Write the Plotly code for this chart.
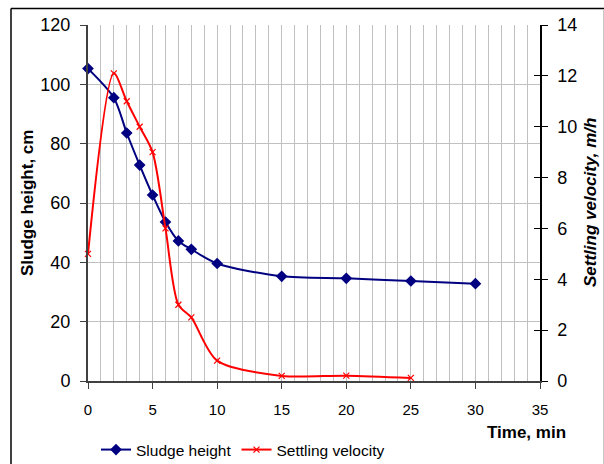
import plotly.graph_objects as go

time_h = [0, 2, 3, 4, 5, 6, 7, 8, 10, 15, 20, 25, 30]
sludge_height = [105.3, 95.5, 83.6, 72.8, 62.7, 53.6, 47.2, 44.4, 39.6, 35.3, 34.6, 33.7, 32.8]
time_v = [0, 2, 3, 4, 5, 6, 7, 8, 10, 15, 20, 25]
settling_velocity = [5.0, 12.1, 11.0, 10.0, 9.0, 6.0, 3.0, 2.5, 0.8, 0.2, 0.21, 0.12]
x_ticks = [0, 5, 10, 15, 20, 25, 30, 35]
left_ticks = [0, 20, 40, 60, 80, 100, 120]
right_ticks = [0, 2, 4, 6, 8, 10, 12, 14]

FONT = "Liberation Sans, Arial, sans-serif"
W, H = 604, 464
L, R, T, B = 88, 64, 25, 82.5
pw, ph = W - L - R, H - T - B

def px_x(p):
    return (p - L) / pw

def px_y(p):
    return (H - B - p) / ph

fig = go.Figure()
fig.add_trace(go.Scatter(
    x=time_h, y=sludge_height, name="Sludge height", mode="lines+markers",
    line=dict(color="#000080", width=2, shape="spline", smoothing=0.8),
    marker=dict(symbol="diamond", size=9, color="#000080"),
    yaxis="y", cliponaxis=False))
fig.add_trace(go.Scatter(
    x=time_v, y=settling_velocity, name="Settling velocity", mode="lines+markers",
    line=dict(color="#FF0000", width=2, shape="spline", smoothing=0.8),
    marker=dict(symbol="x-thin", size=6, color="#FF0000", line=dict(color="#FF0000", width=1.2)),
    yaxis="y2", cliponaxis=False))

fig.update_layout(
    width=W, height=H,
    margin=dict(l=L, r=R, t=T, b=B, pad=0, autoexpand=False),
    paper_bgcolor="white", plot_bgcolor="white",
    font=dict(family=FONT, color="black"),
    showlegend=True,
    legend=dict(orientation="h", x=96 / W, y=1 - 450 / H, xref="container", yref="container",
                xanchor="left", yanchor="middle",
                font=dict(size=15.5, family=FONT), bgcolor="rgba(0,0,0,0)",
                itemwidth=30, tracegroupgap=0),
    xaxis=dict(range=[0, 35], tickvals=x_ticks, showgrid=True, gridcolor="#c0c0c0", gridwidth=1,
               minor=dict(dtick=1, showgrid=True, gridcolor="#c0c0c0", gridwidth=1),
               showline=True, linecolor="#404040", linewidth=2,
               ticks="outside", ticklen=6, tickcolor="#404040", tickwidth=1,
               tickfont=dict(size=15, family=FONT), ticklabelstandoff=8,
               zeroline=False, fixedrange=True, automargin=False),
    yaxis=dict(range=[0, 120], tickvals=left_ticks, showgrid=True, gridcolor="#c0c0c0", gridwidth=1,
               showline=True, linecolor="#404040", linewidth=2,
               ticks="outside", ticklen=6, tickcolor="#404040", tickwidth=1,
               tickfont=dict(size=18, family=FONT), ticklabelstandoff=6,
               zeroline=False, automargin=False),
    yaxis2=dict(range=[0, 14], tickvals=right_ticks, overlaying="y", side="right", showgrid=False,
                showline=True, linecolor="black", linewidth=1.5,
                ticks="outside", ticklen=6, tickcolor="black", tickwidth=1,
                tickfont=dict(size=18, family=FONT), ticklabelstandoff=6,
                zeroline=False, automargin=False),
    yaxis3=dict(range=[0, 14], tickvals=right_ticks, overlaying="y", side="right", showgrid=False,
                showline=False, ticks="inside", ticklen=6, tickcolor="black", tickwidth=1,
                showticklabels=False, zeroline=False, automargin=False),
)

fig.add_trace(go.Scatter(x=[None], y=[None], yaxis="y3", showlegend=False, hoverinfo="skip"))

fig.add_annotation(text="<b>Sludge height, cm</b>", xref="paper", yref="paper",
                   x=px_x(27), y=0.5, textangle=-90, showarrow=False,
                   font=dict(size=17, family=FONT), xanchor="center", yanchor="middle")
fig.add_annotation(text="<b><i>Settling velocity, m/h</i></b>", xref="paper", yref="paper",
                   x=px_x(590), y=0.5, textangle=-90, showarrow=False,
                   font=dict(size=17, family=FONT), xanchor="center", yanchor="middle")
fig.add_annotation(text="<b>Time, min</b>", xref="paper", yref="paper",
                   x=px_x(526), y=px_y(433), showarrow=False,
                   font=dict(size=17, family=FONT), xanchor="center", yanchor="middle")

# chart-area frame: dark left/top edges, light right edge
fig.add_shape(type="line", xref="paper", yref="paper",
              x0=px_x(11), x1=px_x(11), y0=px_y(470), y1=px_y(8.5),
              line=dict(color="black", width=1.5), layer="below")
fig.add_shape(type="line", xref="paper", yref="paper",
              x0=px_x(11), x1=px_x(610), y0=px_y(8.5), y1=px_y(8.5),
              line=dict(color="black", width=1.5), layer="below")
fig.add_shape(type="line", xref="paper", yref="paper",
              x0=px_x(603.5), x1=px_x(603.5), y0=px_y(470), y1=px_y(9),
              line=dict(color="#c8c8c8", width=1), layer="below")

fig.write_html("out.html", config={"displayModeBar": False},
               post_script="document.body.style.margin='0';document.body.style.overflow='hidden';")
